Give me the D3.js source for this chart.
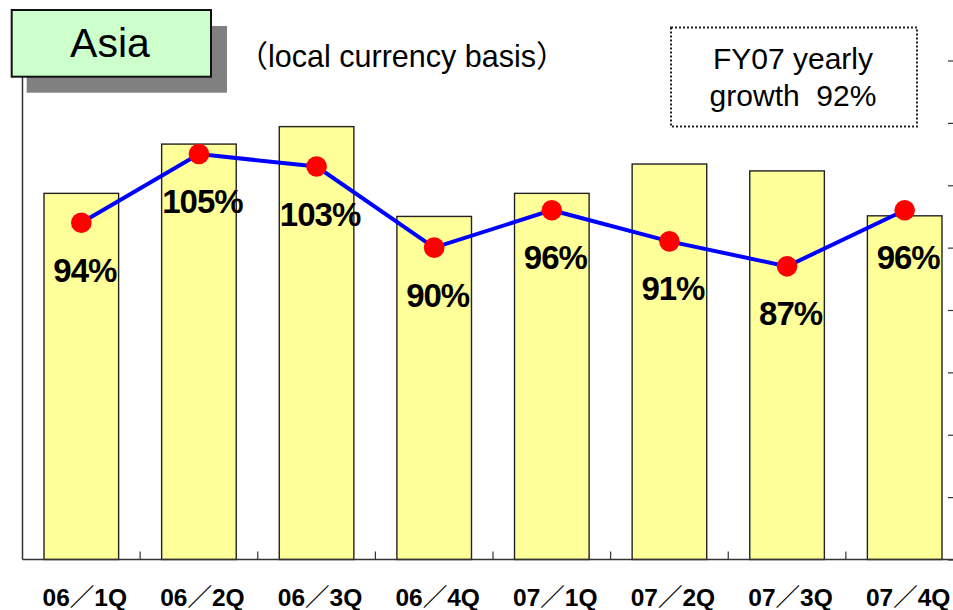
<!DOCTYPE html>
<html>
<head>
<meta charset="utf-8">
<script src="https://cdn.jsdelivr.net/npm/d3@7"></script>
<style>
  body { margin: 0; background: #fff; }
  svg { display: block; font-family: "Liberation Sans", Arial, "Noto Sans CJK JP", sans-serif; }
</style>
</head>
<body>
<svg class="chart" width="953" height="610"></svg>
<script>
var quarters = ["06／1Q", "06／2Q", "06／3Q", "06／4Q", "07／1Q", "07／2Q", "07／3Q", "07／4Q"];
// bar heights (index, no scale shown in the original)
var sales = [587, 666, 694, 550, 587, 634, 623, 551];
// yoy growth, percent
var growth = [94, 105, 103, 90, 96, 91, 87, 96];
var growthTicks = [40, 50, 60, 70, 80, 90, 100, 110, 120];

var top0 = 60.5, base = 559.5, left = 22.5, right = 963.5;

var xb = d3.scaleBand()
    .domain(quarters)
    .range([left, right]);

var y = d3.scaleLinear()
    .domain([0, 800])
    .range([base, top0]);

var y2 = d3.scaleLinear()
    .domain([40, 120])
    .range([base, top0]);

var svg = d3.select(".chart");

// left axis line
svg.append("line")
    .attr("x1", left).attr("x2", left)
    .attr("y1", top0).attr("y2", base)
    .attr("stroke", "#333").attr("stroke-width", 1.5);

// right axis ticks (no labels)
svg.append("g")
    .attr("transform", "translate(953,0)")
    .call(d3.axisLeft(y2).tickValues(growthTicks).tickSize(5).tickFormat(""))
    .call(function (g) { g.select(".domain").remove(); })
    .selectAll("line").attr("stroke", "#333").attr("stroke-width", 1.2);

// bars
svg.append("g")
    .selectAll("rect")
    .data(sales)
    .enter()
    .append("rect")
    .attr("x", function (d, i) { return xb(quarters[i]) + xb.bandwidth() / 2 - 37.3; })
    .attr("y", function (d) { return y(d); })
    .attr("width", 74.6)
    .attr("height", function (d) { return base - y(d); })
    .attr("fill", "#FFFF99")
    .attr("stroke", "#222")
    .attr("stroke-width", 1.4);

// bottom axis with category ticks pointing up
svg.append("line")
    .attr("x1", left).attr("x2", 953)
    .attr("y1", base).attr("y2", base)
    .attr("stroke", "#333").attr("stroke-width", 1.5);

svg.append("g")
    .selectAll("line")
    .data(quarters.slice(1))
    .enter()
    .append("line")
    .attr("x1", function (d) { return xb(d); })
    .attr("x2", function (d) { return xb(d); })
    .attr("y1", base).attr("y2", base - 8)
    .attr("stroke", "#333").attr("stroke-width", 1.2);

svg.append("g")
    .selectAll("text")
    .data(quarters)
    .enter()
    .append("text")
    .attr("x", function (d) { return xb(d) + xb.bandwidth() / 2 + 3.5; })
    .attr("y", 606)
    .attr("text-anchor", "middle")
    .style("font-size", "24.5px")
    .style("font-weight", "bold")
    .text(function (d) { return d; });

// growth line
var cx = function (d, i) { return xb(quarters[i]) + xb.bandwidth() / 2; };

svg.append("path")
    .datum(growth)
    .attr("d", d3.line().x(cx).y(function (d) { return y2(d); }))
    .attr("fill", "none")
    .attr("stroke", "#0000FF")
    .attr("stroke-width", 4);

svg.append("g")
    .selectAll("circle")
    .data(growth)
    .enter()
    .append("circle")
    .attr("cx", cx)
    .attr("cy", function (d) { return y2(d); })
    .attr("r", 10.3)
    .attr("fill", "#FF0000");

svg.append("g")
    .selectAll("text")
    .data(growth)
    .enter()
    .append("text")
    .attr("x", function (d, i) { return cx(d, i) + 3.5; })
    .attr("y", function (d) { return y2(d) + 59; })
    .attr("text-anchor", "middle")
    .style("font-size", "33px")
    .style("font-weight", "bold")
    .style("letter-spacing", "-1px")
    .text(function (d) { return d + "%"; });

// title box with shadow
svg.append("rect")
    .attr("x", 26.7).attr("y", 26).attr("width", 200.3).attr("height", 66.7)
    .attr("fill", "#808080");
svg.append("rect")
    .attr("x", 11.7).attr("y", 10).attr("width", 199.3).attr("height", 66.7)
    .attr("fill", "#CCFFCC")
    .attr("stroke", "#111").attr("stroke-width", 2);
svg.append("text")
    .attr("x", 110).attr("y", 56.5)
    .attr("text-anchor", "middle")
    .style("font-size", "41px")
    .text("Asia");

svg.append("text")
    .attr("x", 402).attr("y", 66.5)
    .attr("text-anchor", "middle")
    .style("font-size", "30.5px")
    .text("（local currency basis）");

// FY07 note box
svg.append("rect")
    .attr("x", 671).attr("y", 27.5).attr("width", 246).attr("height", 99)
    .attr("fill", "none")
    .attr("stroke", "#222").attr("stroke-width", 2)
    .attr("stroke-dasharray", "2,2");
svg.append("text")
    .attr("x", 793).attr("y", 68.5)
    .attr("text-anchor", "middle")
    .style("font-size", "30px")
    .text("FY07 yearly");
svg.append("text")
    .attr("x", 793).attr("y", 105.5)
    .attr("text-anchor", "middle")
    .style("font-size", "30px")
    .style("white-space", "pre")
    .text("growth  92%");
</script>
</body>
</html>
